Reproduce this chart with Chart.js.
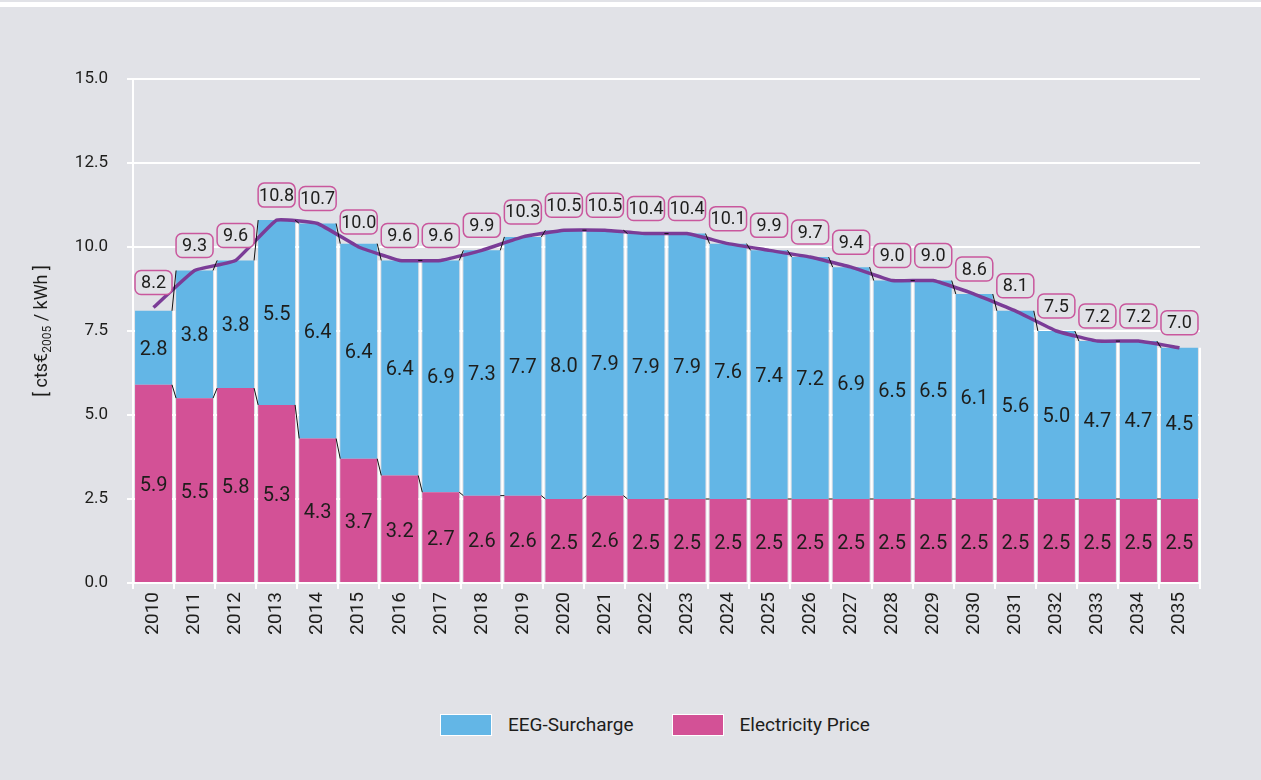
<!DOCTYPE html>
<html>
<head>
<meta charset="utf-8">
<script src="https://cdn.jsdelivr.net/npm/chart.js@4.4.1/dist/chart.umd.min.js"></script>
<style>
  html, body { margin: 0; padding: 0; background: #e1e2e7; }
  body { width: 1261px; height: 780px; position: relative; overflow: hidden; font-family: Roboto, sans-serif; color: #1d1d1b; }
  .band { position: absolute; left: 0; top: 2px; width: 100%; height: 5px; background: #fff; }
  #chart { position: absolute; left: 0; top: 0; }
  #legend { position: absolute; left: 440px; top: 714px; display: flex; align-items: center; font-size: 19px; line-height: 22px; }
  #legend .item { display: flex; align-items: center; margin-right: 38px; }
  #legend .box { width: 50px; height: 20px; border: 1px solid #fff; margin-right: 16px; }
</style>
</head>
<body>
<div class="band"></div>
<canvas id="chart" width="1261" height="690"></canvas>
<div id="legend"></div>
<script>
const years = ['2010', '2011', '2012', '2013', '2014', '2015', '2016', '2017', '2018', '2019', '2020', '2021', '2022',
  '2023', '2024', '2025', '2026', '2027', '2028', '2029', '2030', '2031', '2032', '2033', '2034', '2035'];

const electricityPrice = [5.9, 5.5, 5.8, 5.3, 4.3, 3.7, 3.2, 2.7, 2.6, 2.6, 2.5, 2.6, 2.5,
  2.5, 2.5, 2.5, 2.5, 2.5, 2.5, 2.5, 2.5, 2.5, 2.5, 2.5, 2.5, 2.5];

// bar heights as drawn (2010 bar is shorter than its printed 2.8)
const eegSurcharge = [2.2, 3.8, 3.8, 5.5, 6.4, 6.4, 6.4, 6.9, 7.3, 7.7, 8.0, 7.9, 7.9,
  7.9, 7.6, 7.4, 7.2, 6.9, 6.5, 6.5, 6.1, 5.6, 5.0, 4.7, 4.7, 4.5];

const eegPrinted = [2.8, 3.8, 3.8, 5.5, 6.4, 6.4, 6.4, 6.9, 7.3, 7.7, 8.0, 7.9, 7.9,
  7.9, 7.6, 7.4, 7.2, 6.9, 6.5, 6.5, 6.1, 5.6, 5.0, 4.7, 4.7, 4.5];

const totalPrice = [8.2, 9.3, 9.6, 10.8, 10.7, 10.0, 9.6, 9.6, 9.9, 10.3, 10.5, 10.5, 10.4,
  10.4, 10.1, 9.9, 9.7, 9.4, 9.0, 9.0, 8.6, 8.1, 7.5, 7.2, 7.2, 7.0];

const BLUE = '#63b6e6';
const PINK = '#d35196';
const PURPLE = '#7b3c97';
const BG = '#e1e2e7';
const TEXT = '#1d1d1b';
const FONT = 'Roboto, sans-serif';

// white separators in the gaps + connectors between bar tops
const barExtras = {
  id: 'barExtras',
  beforeDatasetsDraw(chart) {
    const ctx = chart.ctx;
    const top = chart.getDatasetMeta(2).data;
    const step = top.length > 1 ? top[1].x - top[0].x : 0;
    ctx.save();
    ctx.strokeStyle = '#fff';
    ctx.lineWidth = 2;
    for (let i = 0; i < top.length; i++) {
      const x = top[i].x + step / 2;
      const y = i < top.length - 1 ? Math.max(top[i].y, top[i + 1].y) : top[i].y;
      ctx.beginPath();
      ctx.moveTo(x, chart.chartArea.bottom);
      ctx.lineTo(x, y);
      ctx.stroke();
    }
    ctx.restore();
  },
  afterDatasetsDraw(chart) {
    const ctx = chart.ctx;
    ctx.save();
    ctx.strokeStyle = '#111';
    ctx.lineWidth = 1;
    [1, 2].forEach((d) => {
      const bars = chart.getDatasetMeta(d).data;
      for (let i = 0; i < bars.length - 1; i++) {
        const a = bars[i];
        const b = bars[i + 1];
        ctx.beginPath();
        ctx.moveTo(a.x + a.width / 2, a.y);
        ctx.lineTo(b.x - b.width / 2, b.y);
        ctx.stroke();
      }
    });
    ctx.restore();
  },
};

// numbers inside bars and boxed totals above the line
const valueLabels = {
  id: 'valueLabels',
  afterDraw(chart) {
    const ctx = chart.ctx;
    ctx.save();
    ctx.textAlign = 'center';
    ctx.textBaseline = 'middle';
    ctx.fillStyle = TEXT;
    ctx.font = '20px ' + FONT;

    const price = chart.getDatasetMeta(1).data;
    price.forEach((bar, i) => {
      ctx.fillText(electricityPrice[i].toFixed(1), bar.x, (bar.y + bar.base) / 2 + 3);
    });
    const eeg = chart.getDatasetMeta(2).data;
    eeg.forEach((bar, i) => {
      ctx.fillText(eegPrinted[i].toFixed(1), bar.x, (bar.y + bar.base) / 2 + 2);
    });

    const pts = chart.getDatasetMeta(0).data;
    ctx.font = '18px ' + FONT;
    pts.forEach((p, i) => {
      const w = 37, h = 24;
      const cy = p.y - 25;
      ctx.beginPath();
      ctx.roundRect(p.x - w / 2, cy - h / 2, w, h, 6);
      ctx.fillStyle = BG;
      ctx.fill();
      ctx.lineWidth = 1.5;
      ctx.strokeStyle = '#c9579d';
      ctx.stroke();
      ctx.fillStyle = TEXT;
      ctx.fillText(totalPrice[i].toFixed(1), p.x, cy + 1);
    });

    // y axis title with subscript
    const area = chart.chartArea;
    const parts = [['[ cts€', 18, 0], ['2005', 12, 4], [' / kWh ]', 18, 0]];
    let total = 0;
    parts.forEach(([t, s]) => { ctx.font = s + 'px ' + FONT; total += ctx.measureText(t).width; });
    ctx.translate(41, (area.top + area.bottom) / 2);
    ctx.rotate(-Math.PI / 2);
    ctx.textAlign = 'left';
    ctx.textBaseline = 'alphabetic';
    let x = -total / 2;
    parts.forEach(([t, s, dy]) => {
      ctx.font = s + 'px ' + FONT;
      ctx.fillText(t, x, 6 + dy);
      x += ctx.measureText(t).width;
    });
    ctx.restore();
  },
};

const chart = new Chart(document.getElementById('chart'), {
  data: {
    labels: years,
    datasets: [
      {
        type: 'line',
        label: 'Total',
        data: totalPrice,
        borderColor: PURPLE,
        borderWidth: 3.5,
        pointRadius: 0,
        tension: 0.1,
        stack: 'total',
        order: 0,
      },
      {
        type: 'bar',
        label: 'Electricity Price',
        data: electricityPrice,
        backgroundColor: PINK,
        borderWidth: 0,
        stack: 'bars',
        barPercentage: 0.9,
        categoryPercentage: 1,
        order: 1,
      },
      {
        type: 'bar',
        label: 'EEG-Surcharge',
        data: eegSurcharge,
        backgroundColor: BLUE,
        borderWidth: 0,
        stack: 'bars',
        barPercentage: 0.9,
        categoryPercentage: 1,
        order: 1,
      },
    ],
  },
  options: {
    responsive: false,
    animation: false,
    layout: { padding: { left: 0, right: 61, top: 79, bottom: 0 } },
    plugins: {
      legend: { display: false },
      tooltip: { enabled: false },
    },
    scales: {
      x: {
        stacked: true,
        offset: true,
        grid: { display: true, drawOnChartArea: false, color: '#fff', lineWidth: 2, tickLength: 6 },
        border: { color: '#fff', width: 2 },
        ticks: { color: TEXT, font: { family: FONT, size: 19 }, minRotation: 90, maxRotation: 90, padding: 3 },
        afterFit: (scale) => { scale.height = 107; },
      },
      y: {
        stacked: true,
        min: 0,
        max: 15,
        grid: { color: '#fff', lineWidth: 2, tickLength: 6 },
        border: { color: '#fff', width: 2 },
        ticks: {
          stepSize: 2.5,
          color: TEXT,
          font: { family: FONT, size: 17 },
          padding: 19,
          callback: (v) => Number(v).toFixed(1),
        },
        afterFit: (scale) => { scale.width = 133; },
      },
    },
  },
  plugins: [barExtras, valueLabels],
});

const legend = document.getElementById('legend');
[chart.data.datasets[2], chart.data.datasets[1]].forEach((ds) => {
  const item = document.createElement('div');
  item.className = 'item';
  const box = document.createElement('span');
  box.className = 'box';
  box.style.background = ds.backgroundColor;
  const text = document.createElement('span');
  text.textContent = ds.label;
  item.append(box, text);
  legend.append(item);
});
</script>
</body>
</html>
